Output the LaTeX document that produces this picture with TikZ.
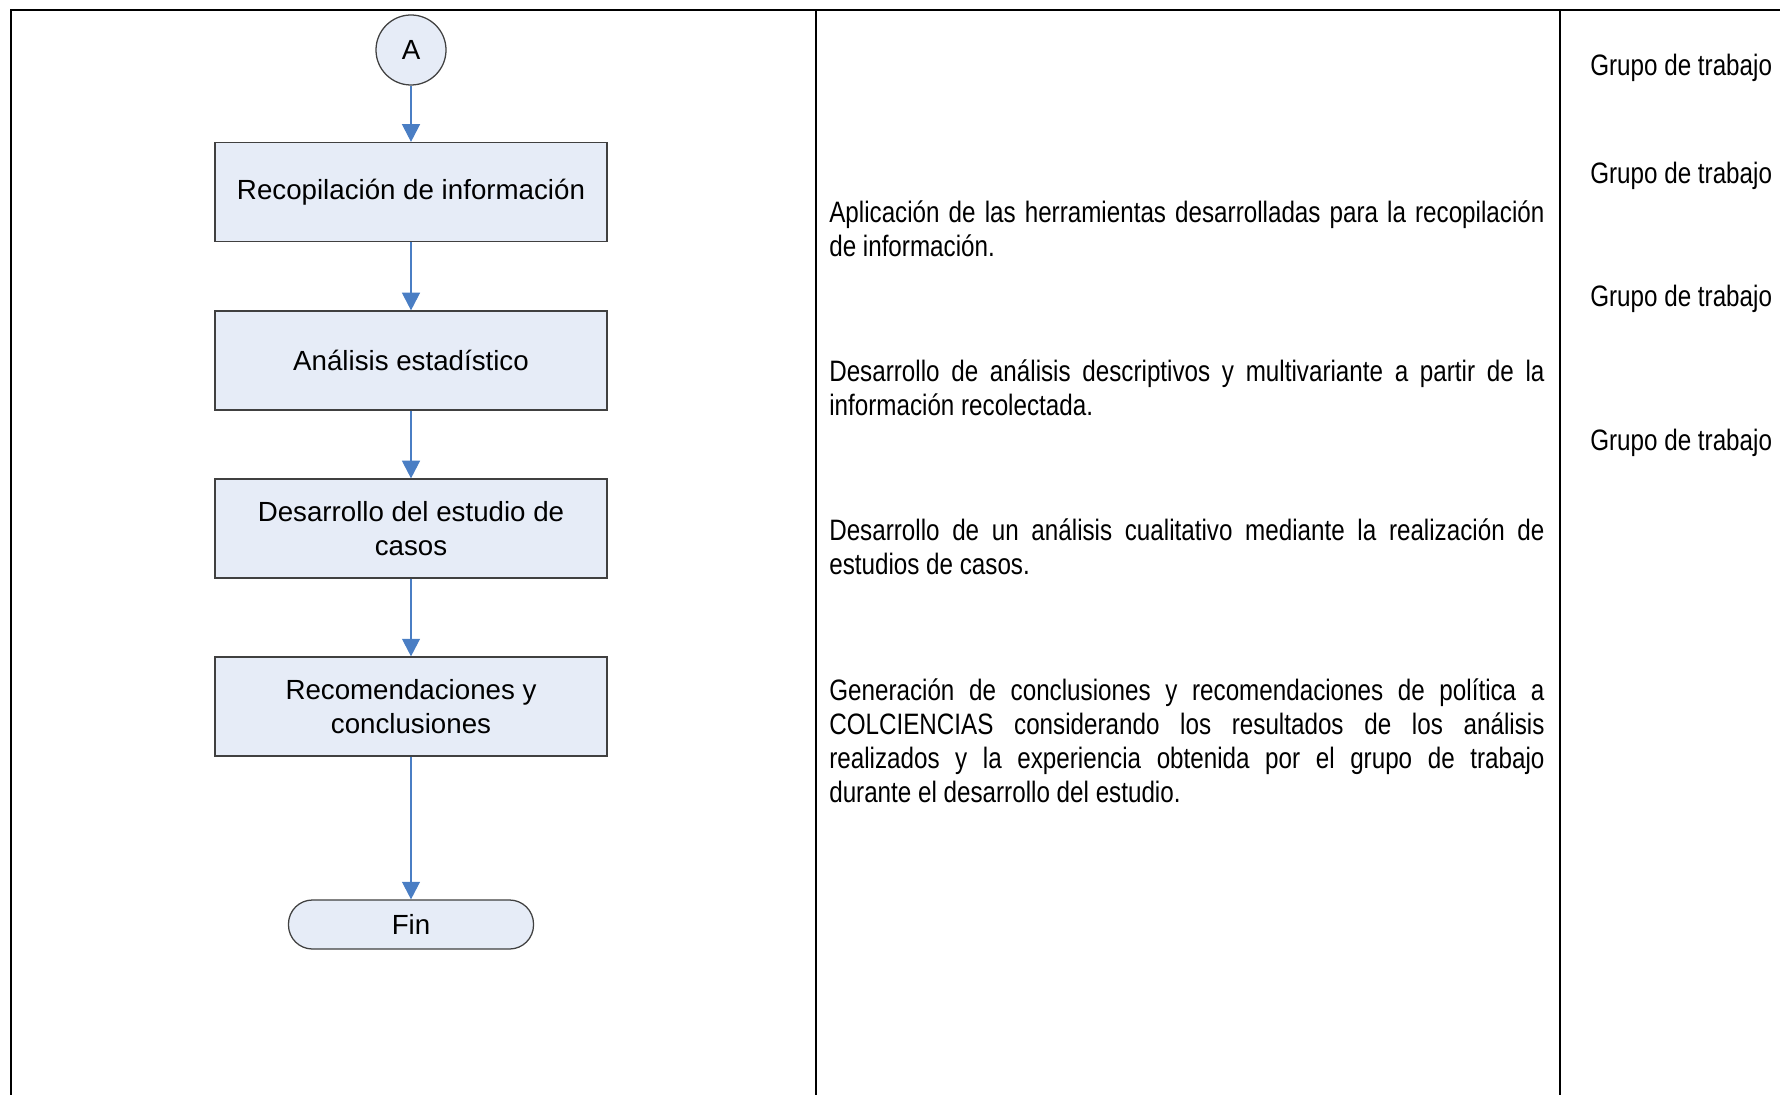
\documentclass[tikz,border=0pt]{standalone}
\usepackage{fontspec}
\setmainfont{Liberation Sans}
\newfontfamily\narrowfont[FakeStretch=0.82]{Liberation Sans}
\usetikzlibrary{positioning, arrows.meta, shapes.geometric}
\definecolor{boxfill}{HTML}{E6ECF7}
\definecolor{flowblue}{HTML}{4A7EC4}
\definecolor{boxline}{HTML}{404040}
\hyphenpenalty=10000
\exhyphenpenalty=10000

\begin{document}
\begin{tikzpicture}[x=0.025cm, y=-0.025cm,
                proceso/.style={draw=boxline, line width=0.9pt, fill=boxfill, rectangle, minimum width=9.8cm, minimum height=2.475cm, align=center, font=\fontsize{19.7pt}{24.2pt}\selectfont},
                conector/.style={draw=boxline, line width=0.9pt, fill=boxfill, circle, minimum size=1.75cm, inner sep=0pt, font=\fontsize{19.7pt}{24.2pt}\selectfont},
                terminal/.style={draw=boxline, line width=0.9pt, fill=boxfill, rectangle, rounded corners=0.6cm, minimum width=6.125cm, minimum height=1.225cm, font=\fontsize{19.7pt}{24.2pt}\selectfont},
                flecha/.style={draw=flowblue, line width=0.8pt, -{Triangle[width=0.45cm, length=0.44cm]}},
                descripcion/.style={anchor=west, inner sep=0pt, text width=17.875cm, align=justify, font=\narrowfont\fontsize{21pt}{24.2pt}\selectfont},
                responsable/.style={anchor=west, inner sep=0pt, font=\narrowfont\fontsize{21pt}{24.2pt}\selectfont},
                marco/.style={line width=2pt, black}
            ]
            \useasboundingbox (0,0) rectangle (1780,1095);

            % marco de la tabla
            \draw[marco] (11,1095) -- (11,10) -- (1780,10);
            \draw[marco] (816,10) -- (816,1095);
            \draw[marco] (1560,10) -- (1560,1095);

            % diagrama de flujo
            \node[conector] (A) at (411,50) {A};
            \node[proceso] (R1) at (411,192) {Recopilación de información};
            \node[proceso] (R2) at (411,360.5) {Análisis estadístico};
            \node[proceso] (R3) at (411,528.5) {Desarrollo del estudio de\\casos};
            \node[proceso] (R4) at (411,706.5) {Recomendaciones y\\conclusiones};
            \node[terminal] (fin) at (411,924.5) {Fin};

            \draw[flecha] (A) -- (R1);
            \draw[flecha] (R1) -- (R2);
            \draw[flecha] (R2) -- (R3);
            \draw[flecha] (R3) -- (R4);
            \draw[flecha] (R4) -- (fin);

            % descripciones
            \node[descripcion] (d1) at (829,229) {Aplicación de las herramientas desarrolladas para la recopilación\linebreak de información.};
            \node[descripcion] (d2) at (829,388) {Desarrollo de análisis descriptivos y multivariante a partir de la\linebreak información recolectada.};
            \node[descripcion] (d3) at (829,547) {Desarrollo de un análisis cualitativo mediante la realización de\linebreak estudios de casos.};
            \node[descripcion] (d4) at (829,741) {Generación de conclusiones y recomendaciones de política a\linebreak COLCIENCIAS considerando los resultados de los análisis\linebreak realizados y la experiencia obtenida por el grupo de trabajo\linebreak durante el desarrollo del estudio.};

            % responsables
            \node[responsable] (g1) at (1590,68) {Grupo de trabajo};
            \node[responsable] (g2) at (1590,176) {Grupo de trabajo};
            \node[responsable] (g3) at (1590,299) {Grupo de trabajo};
            \node[responsable] (g4) at (1590,443) {Grupo de trabajo};

        \end{tikzpicture}
\end{document}
